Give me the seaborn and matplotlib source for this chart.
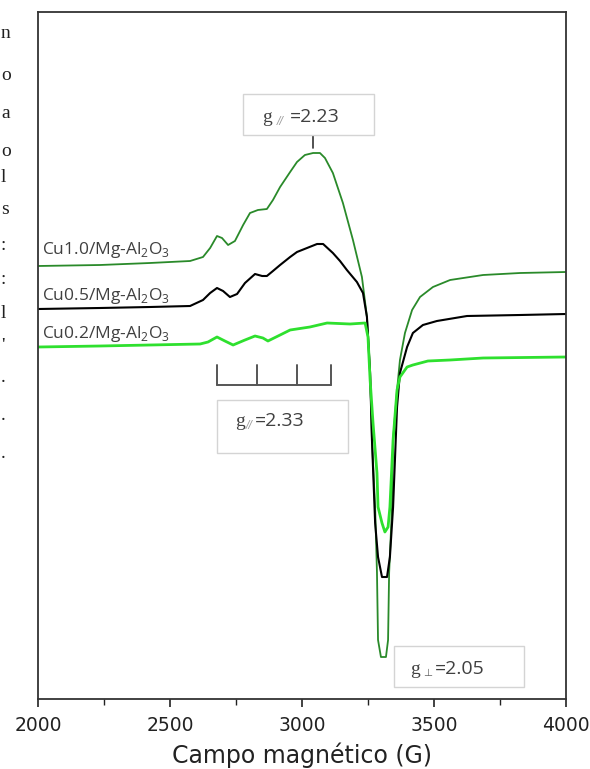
import pandas as pd
import seaborn as sns
import matplotlib.pyplot as plt
from matplotlib.patches import Rectangle
from matplotlib.ticker import MultipleLocator

# ------------------------------------------------------------
# EPR spectra (field in G, intensity in a.u.)
# ------------------------------------------------------------
field_cu10 = [2000, 2235, 2424, 2576, 2625, 2652, 2678, 2697, 2720, 2746, 2777, 2803,
              2833, 2867, 2890, 2917, 2955, 2981, 3011, 3042, 3068, 3087, 3117, 3155,
              3193, 3227, 3246, 3258, 3265, 3277, 3284, 3288, 3299, 3318, 3326, 3330,
              3341, 3345, 3360, 3371, 3390, 3417, 3447, 3496, 3561, 3686, 3826, 4000]
int_cu10 = [433, 434, 436, 438, 442, 451, 463, 461, 454, 458, 474, 486,
            489, 490, 499, 512, 527, 537, 544, 546, 546, 541, 526, 496,
            459, 422, 382, 326, 259, 192, 126, 59, 42, 42, 59, 126,
            192, 259, 309, 339, 366, 389, 402, 412, 419, 424, 426, 427]

field_cu05 = [2000, 2235, 2424, 2576, 2625, 2652, 2678, 2701, 2727, 2754, 2784, 2822,
              2849, 2867, 2890, 2917, 2955, 2981, 3019, 3057, 3080, 3117, 3144, 3170,
              3208, 3231, 3246, 3258, 3265, 3277, 3288, 3303, 3322, 3333, 3345, 3360,
              3371, 3398, 3420, 3458, 3511, 3625, 3826, 4000]
int_cu05 = [390, 391, 392, 393, 399, 406, 411, 408, 402, 405, 416, 425,
            423, 423, 428, 434, 442, 447, 451, 455, 455, 446, 438, 429,
            417, 406, 382, 326, 259, 176, 142, 122, 122, 142, 192, 292,
            326, 352, 366, 374, 378, 383, 384, 385]

field_cu02 = [2000, 2235, 2424, 2614, 2644, 2678, 2708, 2739, 2784, 2822, 2852, 2871,
              2917, 2955, 3030, 3095, 3182, 3239, 3250, 3258, 3269, 3284, 3288, 3303,
              3314, 3326, 3333, 3345, 3360, 3371, 3398, 3420, 3477, 3561, 3686, 4000]
int_cu02 = [352, 353, 354, 355, 357, 362, 358, 354, 359, 363, 361, 358,
            364, 369, 372, 376, 375, 376, 362, 319, 276, 226, 192, 176,
            167, 172, 192, 259, 309, 322, 332, 334, 338, 339, 341, 342]

samples = ["Cu1.0/Mg-Al$_\\mathregular{2}$O$_\\mathregular{3}$",
           "Cu0.5/Mg-Al$_\\mathregular{2}$O$_\\mathregular{3}$",
           "Cu0.2/Mg-Al$_\\mathregular{2}$O$_\\mathregular{3}$"]
colors = ["#2a8a2a", "#000000", "#2ee02e"]
label_y = [449, 403, 365]

# hyperfine comb (g// = 2.33) and the g// = 2.23 peak mark
comb_fields = [2678, 2830, 2981, 3110]
g_par_peak = 3042

df = pd.concat([
    pd.DataFrame({"campo": field_cu10, "intensidad": int_cu10, "muestra": samples[0]}),
    pd.DataFrame({"campo": field_cu05, "intensidad": int_cu05, "muestra": samples[1]}),
    pd.DataFrame({"campo": field_cu02, "intensidad": int_cu02, "muestra": samples[2]}),
])

sns.set_style("ticks")
plt.rcParams["font.family"] = ["DejaVu Sans"]
plt.rcParams["mathtext.fontset"] = "custom"

fig = plt.figure(figsize=(5.9, 7.69), dpi=100)
ax = fig.add_axes([38 / 590, 70 / 769, 528 / 590, 687 / 769])

sns.lineplot(data=df, x="campo", y="intensidad", hue="muestra", palette=colors,
             hue_order=samples, sort=False, legend=False, ax=ax, linewidth=1.3)
ax.lines[1].set_linewidth(1.5)
ax.lines[2].set_linewidth(2.0)

ax.set_xlim(2000, 4000)
ax.set_ylim(0, 687)
ax.set_yticks([])
ax.xaxis.set_major_locator(MultipleLocator(500))
ax.xaxis.set_minor_locator(MultipleLocator(250))
ax.tick_params(axis="x", which="major", direction="out", length=6, width=1.2,
               labelsize=13.5, colors="#222222", pad=6)
ax.tick_params(axis="x", which="minor", direction="out", length=4, width=1.0, colors="#222222")
ax.set_xlabel("Campo magnético (G)", fontsize=17, color="#222222", labelpad=6)
ax.set_ylabel("")
for s in ax.spines.values():
    s.set_linewidth(1.3)
    s.set_color("#333333")

# sample labels
for lab, y in zip(samples, label_y):
    ax.text(2015, y, lab, fontsize=12.5, color="#404040", va="center", ha="left",
            family="Open Sans")

# comb for hyperfine lines
ax.plot([comb_fields[0], comb_fields[-1]], [314, 314], color="#555555", lw=1.4)
for f in comb_fields:
    ax.plot([f, f], [314, 334], color="#555555", lw=1.4)

# tick from g// = 2.23 box to the peak
ax.plot([g_par_peak, g_par_peak], [551, 564], color="#333333", lw=1.2)


def g_box(x0, x1, y0, y1, sub, value, xg, xs, xv, yc, sub_color):
    ax.add_patch(Rectangle((x0, y0), x1 - x0, y1 - y0, facecolor="white",
                           edgecolor="#d4d4d4", lw=1.0, zorder=4))
    ax.text(xg, yc, "g", fontsize=14, family="Liberation Serif", color="#404040",
            va="center", ha="left", zorder=5)
    ax.text(xs, yc - 4, sub, fontsize=7.5, color=sub_color, va="center", ha="left",
            zorder=5, style="italic")
    ax.text(xv, yc, value, fontsize=14, family="Open Sans", color="#404040",
            va="center", ha="left", zorder=5)


g_box(2777, 3273, 564, 605, "//", "=2.23", 2849, 2905, 2955, 582, "#999999")
g_box(2678, 3174, 246, 299, "//", "=2.33", 2746, 2788, 2820, 278, "#999999")
g_box(3348, 3841, 12, 53, "\u22a5", "=2.05", 3409, 3458, 3505, 30, "#606060")

# text of the neighbouring column at the left edge
edge_chars = ["n", "o", "a", "o", "l", "s", ":", ":", "l", "'", ".", ".", "."]
edge_y = [33, 75, 113, 152, 177, 210, 245, 280, 313, 347, 377, 415, 453]
for ch, y in zip(edge_chars, edge_y):
    fig.text(1 / 590, 1 - y / 769, ch, fontsize=14, family="Liberation Serif",
             color="#202020", va="center", ha="left")

fig.savefig("out.png", dpi=100)
